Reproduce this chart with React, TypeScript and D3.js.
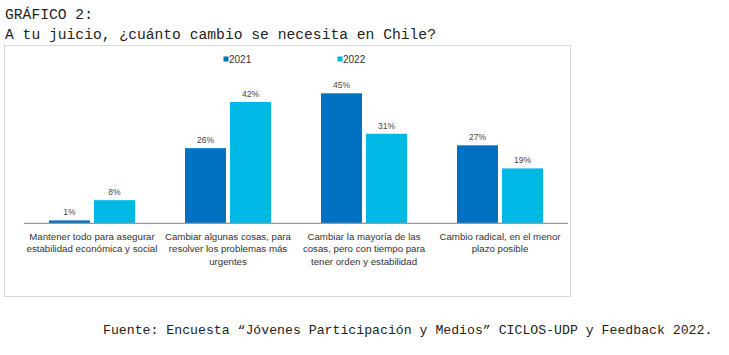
import React from "react";
import * as d3 from "d3";

const categories = [
  ["Mantener todo para asegurar", "estabilidad económica y social"],
  ["Cambiar algunas cosas, para", "resolver los problemas más", "urgentes"],
  ["Cambiar la mayoría de las", "cosas, pero con tiempo para", "tener orden y estabilidad"],
  ["Cambio radical, en el menor", "plazo posible"],
];
const seriesNames = ["2021", "2022"];
const values2021 = [1, 26, 45, 27];
const values2022 = [8, 42, 31, 19];
const colors = ["#0070C0", "#00B8E6"];

export default function App() {
  const W = 729, H = 355;
  const baseY = 223.3;
  const x = d3.scaleBand<number>().domain(d3.range(categories.length)).range([24, 568]).paddingInner(0).paddingOuter(0);
  const y = d3.scaleLinear().domain([0, 45]).range([baseY, baseY - 130]);
  const barW = 41;
  const gap = 4;
  const series = [values2021, values2022];
  return (
    <svg width={W} height={H} style={{ position: "absolute", left: 0, top: 0 }}>
      <rect x={0} y={0} width={W} height={H} fill="#fff" />
      <text x={5} y={19} fontFamily="'Liberation Mono', 'Courier New', monospace" fontSize={14.67} fill="#222">GRÁFICO 2:</text>
      <text x={5} y={39} fontFamily="'Liberation Mono', 'Courier New', monospace" fontSize={14.67} fill="#222">A tu juicio, ¿cuánto cambio se necesita en Chile?</text>
      <rect x={4.5} y={45.5} width={566} height={251} fill="none" stroke="#d9d9d9" strokeWidth={1} />
      {seriesNames.map((s, i) => (
        <g key={s}>
          <rect x={[223.5, 337.5][i]} y={56.5} width={5} height={5} fill={colors[i]} />
          <text x={[229, 343][i]} y={62.5} fontFamily="'Liberation Sans', Arial, sans-serif" fontSize={10} fill="#333">{s}</text>
        </g>
      ))}
      {categories.map((c, ci) => {
        const cx = (x(ci) as number) + x.bandwidth() / 2;
        return (
          <g key={ci}>
            {series.map((vals, si) => {
              const bx = si === 0 ? cx - gap / 2 - barW : cx + gap / 2;
              const top = y(vals[ci]);
              return (
                <g key={si}>
                  <rect x={bx} y={top} width={barW} height={baseY - top} fill={colors[si]} />
                  <text x={bx + barW / 2} y={top - 5} textAnchor="middle" fontFamily="'Liberation Sans', Arial, sans-serif" fontSize={8.5} fill="#444">{vals[ci]}%</text>
                </g>
              );
            })}
            {c.map((line, li) => (
              <text key={li} x={cx} y={240 + li * 12.3} textAnchor="middle" fontFamily="'Liberation Sans', Arial, sans-serif" fontSize={9.7} fill="#333">{line}</text>
            ))}
          </g>
        );
      })}
      <line x1={24} x2={568} y1={baseY} y2={baseY} stroke="#999" strokeWidth={1.3} />
      <text x={103} y={334} fontFamily="'Liberation Mono', 'Courier New', monospace" fontSize={13.2} fill="#222">Fuente: Encuesta “Jóvenes Participación y Medios” CICLOS-UDP y Feedback 2022.</text>
    </svg>
  );
}
